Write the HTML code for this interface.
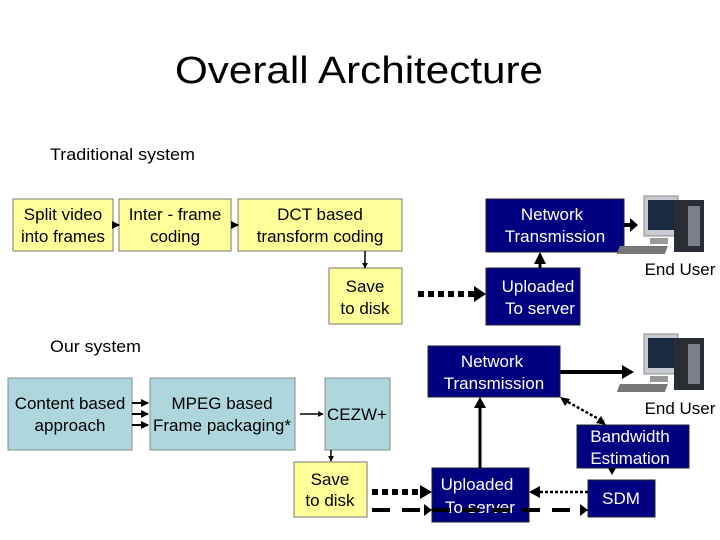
<!DOCTYPE html>
<html><head><meta charset="utf-8"><style>
body{margin:0;background:#fff;}
svg{display:block;font-family:"Liberation Sans",sans-serif;}
</style></head><body>
<svg width="720" height="540" viewBox="0 0 720 540" xmlns="http://www.w3.org/2000/svg">
<defs>
<marker id="a" markerWidth="4" markerHeight="4" refX="3.5" refY="2" orient="auto"><path d="M0,0 L4,2 L0,4 z" fill="#000"/></marker>
<g id="pc">
<rect x="8" y="0" width="34" height="40" fill="#c8ccd2" stroke="#888"/>
<rect x="12" y="4" width="26" height="30" fill="#1a2a40"/>
<rect x="38" y="4" width="30" height="52" fill="#2a2c33"/>
<rect x="52" y="10" width="12" height="40" fill="#7a7f88"/>
<rect x="14" y="42" width="18" height="6" fill="#999"/>
<rect x="2" y="50" width="48" height="8" fill="#777" transform="skewX(-20)"/>
</g>
</defs>
<text x="175" y="83" font-size="38" textLength="368" lengthAdjust="spacingAndGlyphs">Overall Architecture</text>
<text x="50" y="160" font-size="17" textLength="145" lengthAdjust="spacingAndGlyphs">Traditional system</text>
<text x="50" y="352" font-size="17" textLength="91" lengthAdjust="spacingAndGlyphs">Our system</text>

<g fill="#ffff99" stroke="#777">
<rect x="13" y="199" width="100" height="52"/>
<rect x="119" y="199" width="112" height="52"/>
<rect x="238" y="199" width="164" height="52"/>
<rect x="329" y="268" width="73" height="56"/>
<rect x="294" y="462" width="73" height="55"/>
</g>
<g fill="#aed7dd" stroke="#888">
<rect x="8" y="378" width="124" height="72"/>
<rect x="150" y="378" width="145" height="72"/>
<rect x="325" y="378" width="65" height="72"/>
</g>
<g fill="#000080" stroke="#223">
<rect x="486" y="199" width="138" height="53"/>
<rect x="486" y="268" width="94" height="57"/>
<rect x="428" y="346" width="132" height="51"/>
<rect x="577" y="425" width="112" height="43"/>
<rect x="588" y="480" width="67" height="37"/>
<rect x="432" y="468" width="97" height="54"/>
</g>

<use href="#pc" x="636" y="196"/>
<use href="#pc" x="636" y="334"/>

<g font-size="17" text-anchor="middle" fill="#fff">
<text x="552" y="220">Network</text><text x="555" y="242">Transmission</text>
<text x="538" y="292">Uploaded</text><text x="540" y="314">To server</text>
<text x="492" y="367">Network</text><text x="494" y="389">Transmission</text>
<text x="630" y="442">Bandwidth</text><text x="630" y="464">Estimation</text>
<text x="621" y="504">SDM</text>
<text x="477" y="490">Uploaded</text><text x="480" y="513">To server</text>
</g>

<g stroke="#000" fill="none">
<line x1="113" y1="225" x2="119" y2="225" stroke-width="2" marker-end="url(#a)"/>
<line x1="231" y1="225" x2="238" y2="225" stroke-width="2" marker-end="url(#a)"/>
<line x1="365" y1="251" x2="365" y2="268" stroke-width="1.5" marker-end="url(#a)"/>
<line x1="418" y1="294" x2="474" y2="294" stroke-width="6" stroke-dasharray="6,4"/>
<line x1="540" y1="268" x2="540" y2="262" stroke-width="3"/>
<line x1="624" y1="225" x2="636" y2="225" stroke-width="4"/>
<line x1="132" y1="403" x2="148" y2="403" stroke-width="2" marker-end="url(#a)"/>
<line x1="132" y1="414" x2="148" y2="414" stroke-width="2" marker-end="url(#a)"/>
<line x1="132" y1="425" x2="148" y2="425" stroke-width="2" marker-end="url(#a)"/>
<line x1="300" y1="414" x2="323" y2="414" stroke-width="1.5" marker-end="url(#a)"/>
<line x1="331" y1="450" x2="331" y2="461" stroke-width="1.5" marker-end="url(#a)"/>
<line x1="372" y1="492" x2="420" y2="492" stroke-width="6" stroke-dasharray="6,4"/>
<line x1="372" y1="510" x2="580" y2="510" stroke-width="4" stroke-dasharray="18,12"/>
<line x1="588" y1="492" x2="538" y2="492" stroke-width="2.5" stroke-dasharray="3,2"/>
<line x1="480" y1="468" x2="480" y2="406" stroke-width="3"/>
<line x1="560" y1="372" x2="624" y2="372" stroke-width="4"/>
<line x1="568" y1="402" x2="604" y2="422" stroke-width="2.5" stroke-dasharray="3,2"/>
</g>
<g fill="#000">
<path d="M474,286 L486,294 L474,302 z"/>
<path d="M534,264 L540,252 L546,264 z"/>
<path d="M630,218 L638,225 L630,232 z"/>
<path d="M420,485 L432,492 L420,499 z"/>
<path d="M424,504 L432,510 L424,516 z"/>
<path d="M580,504 L588,510 L580,516 z"/>
<path d="M540,486 L529,492 L540,498 z"/>
<path d="M474,408 L480,397 L486,408 z"/>
<path d="M622,365 L634,372 L622,379 z"/>
<path d="M560,397 L570,399 L565,406 z"/>
<path d="M606,425 L596,423 L601,416 z"/>
<path d="M608,468 L616,468 L612,475 z"/>
</g>

<g font-size="17" text-anchor="middle" fill="#000">
<text x="63" y="220">Split video</text><text x="63" y="242">into frames</text>
<text x="175" y="220">Inter -  frame</text><text x="175" y="242">coding</text>
<text x="320" y="220">DCT based</text><text x="320" y="242">transform coding</text>
<text x="365" y="292">Save</text><text x="365" y="314">to disk</text>
<text x="330" y="485">Save</text><text x="330" y="506">to disk</text>
<text x="70" y="409">Content based</text><text x="70" y="431">approach</text>
<text x="222" y="409">MPEG based</text><text x="222" y="431">Frame packaging*</text>
<text x="357" y="420">CEZW+</text>
<text x="680" y="275">End User</text>
<text x="680" y="414">End User</text>
</g>
</svg>
</body></html>
